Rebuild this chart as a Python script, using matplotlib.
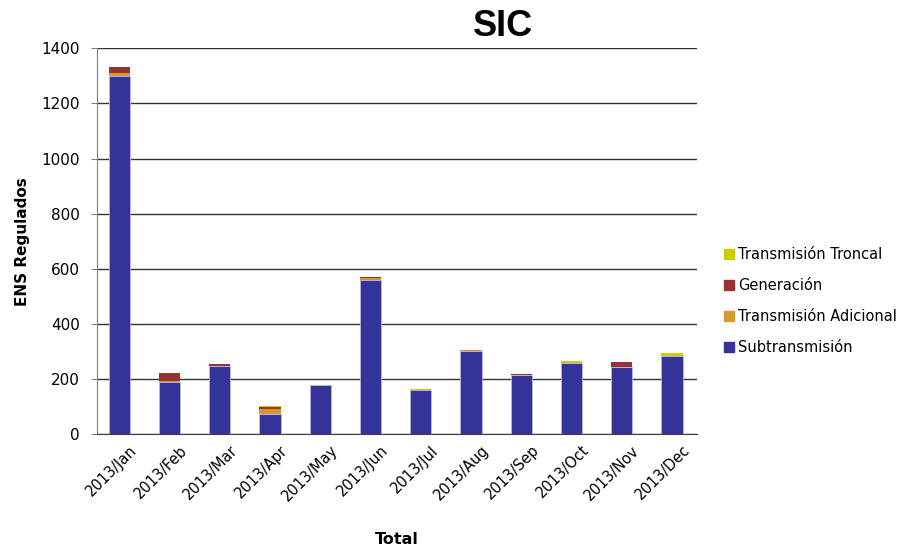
import numpy as np
import matplotlib
matplotlib.use("Agg")
import matplotlib.pyplot as plt
import matplotlib.patches as mpatches
import matplotlib.transforms as mtransforms

# datos (ENS regulados por mes, SIC 2013)
meses = ["2013/Jan", "2013/Feb", "2013/Mar", "2013/Apr", "2013/May", "2013/Jun",
         "2013/Jul", "2013/Aug", "2013/Sep", "2013/Oct", "2013/Nov", "2013/Dec"]
subtransmision = [1299, 188, 246, 74, 179, 561, 160, 302, 215, 259, 245, 285]
trans_adicional = [13, 4, 0, 17, 0, 6, 0, 3, 0, 1, 0, 0]
generacion = [20, 30, 9, 8, 0, 3, 0, 0, 4, 0, 17, 0]
trans_troncal = [0, 0, 0, 4, 0, 0, 3, 0, 0, 4, 0, 8]

series = [
    ("Subtransmisión", subtransmision, "#333399"),
    ("Transmisión Adicional", trans_adicional, "#D4982C"),
    ("Generación", generacion, "#993333"),
    ("Transmisión Troncal", trans_troncal, "#CCCC00"),
]

plt.rcParams["font.family"] = ["DejaVu Sans"]

fig = plt.figure(figsize=(9.03, 5.49), dpi=100, facecolor="white")
ax = fig.add_axes([0.107, 0.209, 0.665, 0.703])

x = np.arange(len(meses))
bottom = np.zeros(len(meses))
for i, (nombre, vals, color) in enumerate(series):
    vals = np.array(vals, dtype=float)
    lw = 0.6 if i == 0 else 0.0
    ax.bar(x, vals, width=0.42, bottom=bottom, color=color,
           edgecolor="#B8B8E0", linewidth=lw, zorder=3)
    bottom += vals

ax.set_ylim(0, 1400)
ax.set_xlim(-0.45, len(meses) - 0.5)
ax.set_yticks(np.arange(0, 1401, 200))
ax.yaxis.grid(True, color="#333333", linewidth=1.0, zorder=0)
ax.set_axisbelow(True)
ax.tick_params(axis="y", labelsize=11, length=4, color="#808080", pad=8)
ax.tick_params(axis="x", length=0, labelsize=10.5, pad=6)
ax.set_xticks(x)
ax.set_xticklabels(meses, rotation=45, ha="right", rotation_mode="anchor")
desplaza = mtransforms.ScaledTranslation(10 / 100, 0, fig.dpi_scale_trans)
for lbl in ax.get_xticklabels():
    lbl.set_transform(lbl.get_transform() + desplaza)

for s in ["top", "right"]:
    ax.spines[s].set_visible(False)
ax.spines["left"].set_color("#808080")
ax.spines["bottom"].set_color("#404040")

ax.set_ylabel("ENS Regulados", fontsize=11, fontweight="bold", labelpad=8)
ax.set_xlabel("Total", fontsize=11.5, fontweight="bold", labelpad=20)

fig.text(0.557, 0.952, "SIC", fontsize=26, fontweight="bold",
         family="Liberation Sans", ha="center", va="center")

handles = [mpatches.Patch(color=c, label=n) for n, _, c in reversed(series)]
fig.legend(handles=handles, loc="center left", bbox_to_anchor=(0.787, 0.452),
           frameon=False, fontsize=10.5, handlelength=0.7, handleheight=0.7,
           handletextpad=0.3, labelspacing=1.1)

plt.savefig("out.png", dpi=100, facecolor="white")
